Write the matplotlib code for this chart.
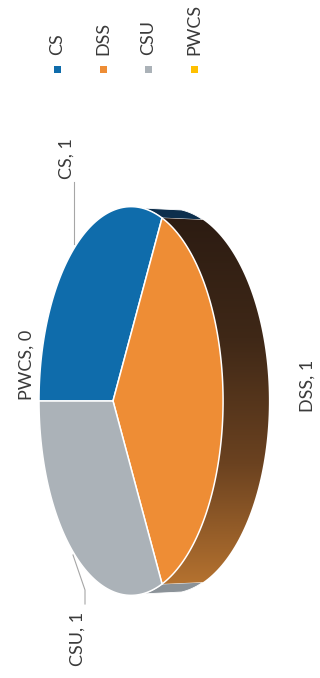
#!/usr/bin/env python3
"""Sideways 3D pie of CS / DSS / CSU / PWCS counts, saved to out.png."""
import numpy as np
import matplotlib
matplotlib.use("Agg")
import matplotlib.pyplot as plt
from matplotlib.colors import LinearSegmentedColormap
from matplotlib.patches import PathPatch, Polygon, Rectangle
from matplotlib.path import Path

CATEGORIES = ["CS", "DSS", "CSU", "PWCS"]
VALUES = [1, 1, 1, 0]
COLORS = ["#0f6cab", "#ee8d35", "#abb2b8", "#ffc000"]
WALL_COLORS = ["#0d2f4d", None, "#8b9298", None]

# where each "name, value" label sits, in pixels of the page
LABEL_POS = {"CS": (67, 159), "DSS": (308, 386), "CSU": (78, 639), "PWCS": (27, 365)}
LEGEND_X = [57, 103, 148, 194]

APEX = (113.0, 401.0)
TILT = 0.196       # perspective of the pie top
SX, SY = 88.5, 190.6
DEPTH_DX, DEPTH_SX, DEPTH_SY = 37.0, 1.08, 0.99
SLIVER = 12.0      # degrees of neighbour wall showing past the front slice


def rim(deg, lower=False):
    a = np.radians(deg)
    w = 1 - TILT * np.cos(a)
    u = SX * np.cos(a) / w
    v = SY * np.sin(a) / w
    if lower:
        return np.column_stack([APEX[0] + DEPTH_DX + DEPTH_SX * u, APEX[1] - DEPTH_SY * v])
    return np.column_stack([APEX[0] + u, APEX[1] - v])


def arc(a0, a1):
    return np.linspace(a0, a1, 90)


plt.rcParams["font.family"] = ["Lato", "DejaVu Sans"]
fig = plt.figure(figsize=(3.2, 6.78), dpi=100)
ax = fig.add_axes([0, 0, 1, 1])

# slices run clockwise starting from the left edge
fractions = np.array(VALUES) / sum(VALUES)
edges = 180 - 360 * np.concatenate([[0], np.cumsum(fractions)])
spans = list(zip(edges[:-1], edges[1:]))

# thin bits of the neighbouring walls, behind everything else
blue_end, dss_end = spans[0][1], spans[1][1]
for color, a0, a1 in [(WALL_COLORS[0], blue_end + SLIVER, blue_end),
                      (WALL_COLORS[2], dss_end - SLIVER, dss_end)]:
    pts = np.vstack([rim(arc(a0, a1)), rim(arc(a1, a0), lower=True)])
    ax.add_patch(Polygon(pts, closed=True, fc=color, ec="white", lw=0.6))

# DSS outer wall with its top-to-bottom shading
wall = np.vstack([rim(arc(blue_end, dss_end)), rim(arc(dss_end, blue_end), lower=True)])
wall_patch = Polygon(wall, closed=True, fc="none", ec="none")
ax.add_patch(wall_patch)
shade = LinearSegmentedColormap.from_list(
    "wall", ["#2b1b12", "#3f2817", "#6b4220", "#b87430"])
img = ax.imshow(np.linspace(0, 1, 256).reshape(-1, 1), cmap=shade, aspect="auto",
                extent=(140, 280, 590, 212), zorder=1)
img.set_clip_path(wall_patch)

# top faces
for (a0, a1), color, val in zip(spans, COLORS, VALUES):
    if val == 0:
        continue
    pts = np.vstack([[APEX], rim(arc(a0, a1)), [APEX]])
    ax.add_patch(PathPatch(Path(pts), fc=color, ec="white", lw=1.1, zorder=2))

# leader lines
ax.plot([74, 74], [182, 244], color="#a6a6a6", lw=0.8, zorder=3)
ax.plot([73, 85, 85], [555, 590, 604], color="#a6a6a6", lw=0.8, zorder=3)

for name, val in zip(CATEGORIES, VALUES):
    x, y = LABEL_POS[name]
    ax.text(x, y, f"{name}, {val}", rotation=90, ha="center", va="center",
            fontsize=13, color="#3a3a3a")

# legend column along the top
for name, color, x in zip(CATEGORIES, COLORS, LEGEND_X):
    ax.add_patch(Rectangle((x - 3.5, 65.5), 7, 7, fc=color, ec="none"))
    ax.text(x, 55, name, rotation=90, ha="center", va="bottom",
            fontsize=13, color="#3a3a3a")

ax.set_xlim(0, 320)
ax.set_ylim(678, 0)
ax.axis("off")
fig.savefig("out.png", dpi=100)
